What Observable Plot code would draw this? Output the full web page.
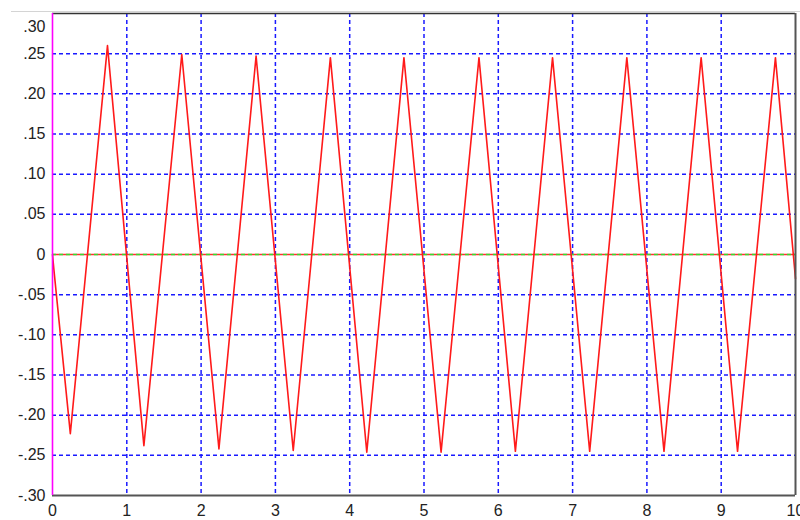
<!DOCTYPE html>
<html>
<head>
<meta charset="utf-8">
<script src="https://cdn.jsdelivr.net/npm/d3@7"></script>
<script src="https://cdn.jsdelivr.net/npm/@observablehq/plot@0.6"></script>
<style>
  html, body { margin: 0; padding: 0; background: #fff; overflow: hidden; }
  #wrap { position: relative; width: 800px; height: 520px; }
  #frame { position: absolute; top: 11px; left: 11px; right: 0; border-top: 1px solid #d4d4d4; pointer-events: none; }
</style>
</head>
<body>
<div id="wrap"><div id="chart"></div><div id="frame"></div></div>
<script>
// Signal vertices
const sigX = [0, 0.02, 0.24, 0.74, 1.23, 1.74, 2.24, 2.74, 3.24, 3.74, 4.23, 4.73, 5.23, 5.74, 6.23, 6.73, 7.23, 7.73, 8.23, 8.73, 9.22, 9.73, 10];
const sigY = [0, -0.02, -0.223, 0.26, -0.238, 0.249, -0.242, 0.247, -0.244, 0.245, -0.246, 0.245, -0.246, 0.245, -0.245, 0.245, -0.245, 0.245, -0.245, 0.245, -0.245, 0.245, -0.03];

const xTicks = [0, 1, 2, 3, 4, 5, 6, 7, 8, 9, 10];
const xTickLabels = ["0", "1", "2", "3", "4", "5", "6", "7", "8", "9", "10"];
const yTicks = [0.30, 0.25, 0.20, 0.15, 0.10, 0.05, 0, -0.05, -0.10, -0.15, -0.20, -0.25, -0.30];
const yTickLabels = [".30", ".25", ".20", ".15", ".10", ".05", "0", "-.05", "-.10", "-.15", "-.20", "-.25", "-.30"];

const signal = sigX.map((x, i) => ({x, y: sigY[i]}));
const xGrid = xTicks.filter(d => d > 0 && d < 10);
const yGrid = yTicks.filter(d => d !== 0 && Math.abs(d) < 0.3);
const yLab = new Map(yTicks.map((d, i) => [d, yTickLabels[i]]));
const xLab = new Map(xTicks.map((d, i) => [d, xTickLabels[i]]));

const font = "'Liberation Sans', Arial, sans-serif";

const chart = Plot.plot({
  width: 800,
  height: 520,
  marginLeft: 52,
  marginRight: 5,
  marginTop: 13,
  marginBottom: 25,
  style: {fontFamily: font, fontSize: "16px", color: "#222", background: "#fff"},
  x: {domain: [0, 10]},
  y: {domain: [-0.3, 0.3]},
  marks: [
    Plot.gridX(xGrid, {stroke: "#1a1aff", strokeOpacity: 1, strokeWidth: 1.5, strokeDasharray: "4,3"}),
    Plot.gridY(yGrid, {stroke: "#1a1aff", strokeOpacity: 1, strokeWidth: 1.5, strokeDasharray: "4,3"}),
    Plot.ruleY([0], {stroke: "#ff3030", strokeWidth: 1.5}),
    Plot.ruleY([0], {stroke: "#33dd33", strokeWidth: 1.5, strokeDasharray: "4,3"}),
    Plot.line(signal, {x: "x", y: "y", stroke: "#ff1a1a", strokeWidth: 1.6}),
    Plot.ruleY([0.3], {stroke: "#333", strokeWidth: 1.5}),
    Plot.ruleY([-0.3], {stroke: "#555", strokeWidth: 2}),
    Plot.ruleX([10], {stroke: "#555", strokeWidth: 2}),
    Plot.ruleX([0], {stroke: "#ff00ff", strokeWidth: 1.6}),
    Plot.axisX(xTicks, {tickSize: 0, tickPadding: 9, fontSize: 16, tickFormat: d => xLab.get(d), label: null}),
    Plot.axisY(yTicks.filter(d => d !== 0.3), {tickSize: 0, tickPadding: 7, fontSize: 16, tickFormat: d => yLab.get(d), label: null}),
    Plot.axisY([0.3], {tickSize: 0, tickPadding: 7, fontSize: 16, dy: 13, tickFormat: d => yLab.get(d), label: null})
  ]
});
document.getElementById("chart").appendChild(chart);
</script>
</body>
</html>
